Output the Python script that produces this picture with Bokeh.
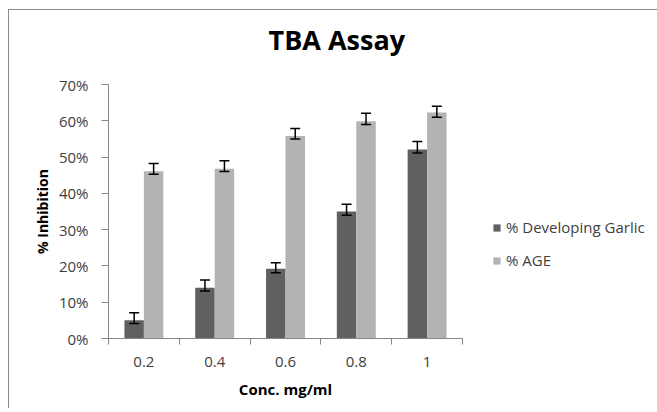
from bokeh.plotting import figure
from bokeh.models import (Range1d, FixedTicker, PrintfTickFormatter, Legend,
                          LegendItem, Whisker, ColumnDataSource, TeeHead)
from bokeh.embed import file_html
from bokeh.resources import INLINE
import numpy as np

# ---- data ----
categories = ["0.2", "0.4", "0.6", "0.8", "1"]
series_names = ["% Developing Garlic", "% AGE"]
garlic = [5.0, 14.0, 19.2, 35.0, 52.1]
garlic_err_hi = [7.1, 16.1, 20.9, 37.0, 54.3]
garlic_err_lo = [4.1, 13.1, 18.1, 34.0, 51.1]
age = [46.1, 46.8, 55.8, 59.9, 62.3]
age_err_hi = [48.2, 49.0, 57.9, 62.1, 64.0]
age_err_lo = [45.3, 46.0, 55.0, 59.0, 61.0]
y_ticks = [0, 10, 20, 30, 40, 50, 60, 70]

DARK = "#606060"
LIGHT = "#b3b3b3"
AXIS = "#868686"
TXT = "#404040"
FONT = "Open Sans"
FRAME_LINE = "#8a8a8a"

n = len(categories)
centers = np.arange(n) + 0.5
bw = 0.275

src_g = ColumnDataSource(dict(x=centers - bw / 2, top=garlic,
                              hi=garlic_err_hi, lo=garlic_err_lo))
src_a = ColumnDataSource(dict(x=centers + bw / 2, top=age,
                              hi=age_err_hi, lo=age_err_lo))

p = figure(frame_width=354, frame_height=254,
           min_border_left=100, min_border_right=191,
           min_border_top=95, min_border_bottom=70,
           x_range=Range1d(0, n), y_range=Range1d(0, 70),
           output_backend="svg", toolbar_location=None,
           background_fill_color="white", border_fill_alpha=0)
p.outline_line_color = None
p.grid.visible = False
# chart-area frame (left and top edges visible) drawn as CSS background lines
grad = f"linear-gradient({FRAME_LINE},{FRAME_LINE})"
p.styles = {"margin-left": "8px", "margin-top": "-11px",
            "background": f"{grad} 0px 20px / 100% 1px no-repeat, "
                          f"{grad} 0px 20px / 1px 100% no-repeat, white"}

r_g = p.vbar(x="x", top="top", width=bw, source=src_g, fill_color=DARK, line_color=None)
r_a = p.vbar(x="x", top="top", width=bw, source=src_a, fill_color=LIGHT, line_color=None)

for src in (src_g, src_a):
    w = Whisker(base="x", upper="hi", lower="lo", source=src, level="overlay",
                line_color="black", line_width=1.5,
                upper_head=TeeHead(size=10, line_color="black", line_width=1.5),
                lower_head=TeeHead(size=10, line_color="black", line_width=1.5))
    p.add_layout(w)

# title
p.title.text = "TBA Assay"
p.title.text_font = FONT
p.title.text_font_size = "27px"
p.title.text_font_style = "bold"
p.title.text_color = "black"
p.title.align = "left"
p.title.offset = 160
p.title.standoff = 54

# x axis
xa = p.xaxis[0]
xa.ticker = FixedTicker(ticks=list(centers), minor_ticks=list(range(n + 1)))
xa.major_label_overrides = {float(c): lab for c, lab in zip(centers, categories)}
xa.major_tick_line_color = None
xa.major_tick_out = 0
xa.major_tick_in = 0
xa.minor_tick_line_color = AXIS
xa.minor_tick_out = 6
xa.minor_tick_in = 0
xa.axis_line_color = AXIS
xa.major_label_standoff = 12
xa.major_label_text_font = FONT
xa.major_label_text_font_size = "15px"
xa.major_label_text_color = TXT
xa.axis_label = "Conc. mg/ml"
xa.axis_label_text_font = FONT
xa.axis_label_text_font_size = "15px"
xa.axis_label_text_font_style = "bold"
xa.axis_label_text_color = "black"
xa.axis_label_standoff = 9

# y axis
ya = p.yaxis[0]
ya.ticker = FixedTicker(ticks=y_ticks, minor_ticks=[])
ya.formatter = PrintfTickFormatter(format="%d%%")
ya.axis_line_color = AXIS
ya.major_tick_line_color = AXIS
ya.major_tick_out = 7
ya.major_tick_in = 0
ya.minor_tick_line_color = None
ya.major_label_standoff = 13
ya.major_label_text_font = FONT
ya.major_label_text_font_size = "15px"
ya.major_label_text_color = TXT
ya.axis_label = "% Inhibition"
ya.axis_label_text_font = FONT
ya.axis_label_text_font_size = "14px"
ya.axis_label_text_font_style = "bold"
ya.axis_label_text_color = "black"
ya.axis_label_standoff = 4

legend = Legend(items=[LegendItem(label=series_names[0], renderers=[r_g]),
                       LegendItem(label=series_names[1], renderers=[r_a])],
                location=(30, 68), orientation="vertical",
                glyph_width=9, glyph_height=9, label_standoff=5, spacing=13,
                padding=0, margin=0, border_line_color=None,
                background_fill_alpha=0,
                label_text_font=FONT, label_text_font_size="15px",
                label_text_color=TXT)
p.add_layout(legend, "right")

open("out.html", "w").write(file_html(p, INLINE))
